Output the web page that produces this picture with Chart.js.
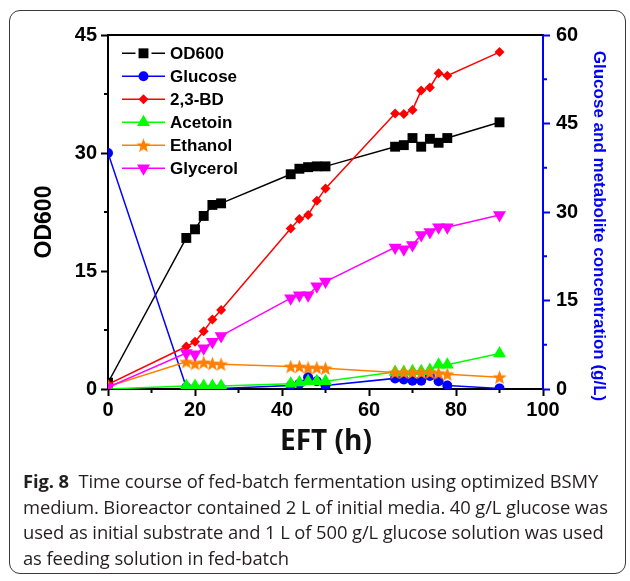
<!DOCTYPE html>
<html>
<head>
<meta charset="utf-8">
<script src="https://cdn.jsdelivr.net/npm/chart.js@4.4.1/dist/chart.umd.min.js"></script>
<style>
  html, body { margin: 0; padding: 0; background: #fff; }
  #wrap { position: relative; width: 630px; height: 581px; overflow: hidden; }
  #frame { position: absolute; left: 9px; top: 10px; width: 617px; height: 564px;
           border: 1px solid #3a3a3a; border-radius: 11px; box-sizing: border-box; }
  #c { position: absolute; left: 0; top: 0; }
  #xtitle { position: absolute; left: 0; width: 652px; top: 421px; text-align: center;
            font-family: "Open Sans", "Noto Sans", sans-serif; font-weight: 700; font-size: 28px;
            line-height: 36px; color: #111; }
  #caption { position: absolute; left: 23px; top: 468px; width: 604px;
             font-family: "Open Sans", "Noto Sans", sans-serif; font-size: 18.4px; line-height: 25.5px;
             color: #231f20; white-space: nowrap; letter-spacing: -0.1px; }
  #caption b { font-weight: 700; }
</style>
</head>
<body>
<div id="wrap">
  <div id="frame"></div>
  <canvas id="c" width="630" height="460"></canvas>
  <div id="xtitle">EFT (h)</div>
  <div id="caption"><b>Fig. 8</b>&nbsp; Time course of fed-batch fermentation using optimized BSMY<br>medium. Bioreactor contained 2 L of initial media. 40 g/L glucose was<br>used as initial substrate and 1 L of 500 g/L glucose solution was used<br>as feeding solution in fed-batch</div>
</div>
<script>
// Sampling times (h) shared by every series
const hours      = [0, 18, 20, 22, 24, 26, 42, 44, 46, 48, 50, 66, 68, 70, 72, 74, 76, 78, 90];
// Biomass (left axis)
const od600      = [0.8, 19.2, 20.3, 22.0, 23.4, 23.6, 27.3, 28.0, 28.2, 28.3, 28.3, 30.8, 31.0, 31.9, 30.8, 31.8, 31.3, 31.9, 33.9];
// Concentrations in g/L (right axis)
const glucose    = [40.0, 0.3, 0.1, 0.1, 0.1, 0.1, 0.6, 0.9, 2.0, 1.3, 0.6, 1.8, 1.6, 1.4, 1.4, 2.2, 1.3, 0.6, 0.1];
const butanediol = [0.8, 7.2, 8.0, 9.8, 11.8, 13.4, 27.2, 28.8, 29.5, 31.9, 34.0, 46.7, 46.6, 47.3, 50.6, 51.1, 53.5, 53.1, 57.1];
const acetoin    = [0.0, 0.5, 0.5, 0.5, 0.5, 0.5, 0.9, 1.1, 1.3, 1.3, 1.3, 2.9, 2.9, 3.0, 3.0, 3.2, 4.1, 4.1, 6.0];
const ethanol    = [0.4, 4.6, 4.3, 4.5, 4.3, 4.2, 3.8, 3.8, 3.6, 3.6, 3.5, 2.8, 2.8, 2.8, 2.8, 2.8, 2.7, 2.5, 2.0];
const glycerol   = [0.3, 6.1, 5.9, 6.9, 8.0, 9.0, 15.4, 15.9, 15.9, 17.4, 18.2, 24.0, 23.7, 24.4, 26.1, 26.6, 27.4, 27.4, 29.5];

// Axis ranges and tick steps
const xRange = [0, 100], xStep = 20, xMinor = 10;
const odRange = [0, 45], odStep = 15, odMinor = 7.5;
const concRange = [0, 60], concStep = 15, concMinor = 7.5;

const pts = arr => arr.map((v, i) => ({ x: hours[i], y: v }));

// Filled five-pointed star used as a point style
function starImage(color, R) {
  const r = R * 0.42, s = Math.ceil(R * 2 + 2);
  const c = document.createElement('canvas');
  c.width = s; c.height = s;
  const g = c.getContext('2d');
  g.fillStyle = color;
  g.beginPath();
  for (let i = 0; i < 10; i++) {
    const a = -Math.PI / 2 + i * Math.PI / 5;
    const rr = i % 2 ? r : R;
    g.lineTo(s / 2 + rr * Math.cos(a), s / 2 + 0.6 + rr * Math.sin(a));
  }
  g.closePath();
  g.fill();
  return c;
}
const star = starImage('#ff8000', 7.5);

const series = [
  { label: 'OD600',    data: od600,      color: '#000000', style: 'rect',     r: 7,   rot: 0,   axis: 'y'  },
  { label: 'Glucose',  data: glucose,    color: '#0000ff', style: 'circle',   r: 5,   rot: 0,   axis: 'y2' },
  { label: '2,3-BD',   data: butanediol, color: '#ff0000', style: 'rectRot',  r: 5,   rot: 0,   axis: 'y2' },
  { label: 'Acetoin',  data: acetoin,    color: '#00ff00', style: 'triangle', r: 7.5, rot: 0,   axis: 'y2' },
  { label: 'Ethanol',  data: ethanol,    color: '#ff8000', style: star,       r: 7.5, rot: 0,   axis: 'y2' },
  { label: 'Glycerol', data: glycerol,   color: '#ff00ff', style: 'triangle', r: 7.5, rot: 180, axis: 'y2' }
];

const datasets = series.map((s, i) => ({
  label: s.label,
  data: pts(s.data),
  yAxisID: s.axis,
  borderColor: s.color,
  backgroundColor: s.color,
  borderWidth: 1.5,
  pointStyle: s.style,
  pointRadius: s.r,
  pointHoverRadius: s.r,
  pointRotation: s.rot,
  pointBorderWidth: 0,
  pointBackgroundColor: s.color,
  tension: 0,
  order: series.length - i
}));

const tickFont = { family: '"Liberation Sans", Arial, sans-serif', weight: 'bold', size: 20 };

// Extra decorations: top frame line, minor ticks, axis titles, in-plot legend
const decor = {
  id: 'decor',
  afterDraw(chart) {
    const { ctx, chartArea: a, scales } = chart;
    ctx.save();
    // top border of the plot box
    ctx.strokeStyle = '#000';
    ctx.lineWidth = 2;
    ctx.beginPath();
    ctx.moveTo(a.left - 1, a.top);
    ctx.lineTo(a.right, a.top);
    ctx.stroke();

    // minor ticks
    const minorLen = 4;
    ctx.lineWidth = 2;
    ctx.strokeStyle = '#000';
    for (let v = xRange[0] + xMinor; v < xRange[1]; v += xStep) {
      const px = scales.x.getPixelForValue(v);
      ctx.beginPath(); ctx.moveTo(px, a.bottom); ctx.lineTo(px, a.bottom + minorLen); ctx.stroke();
    }
    for (let v = odRange[0] + odMinor; v < odRange[1]; v += odStep) {
      const py = scales.y.getPixelForValue(v);
      ctx.beginPath(); ctx.moveTo(a.left, py); ctx.lineTo(a.left - minorLen, py); ctx.stroke();
    }
    ctx.strokeStyle = '#0000ff';
    for (let v = concRange[0] + concMinor; v < concRange[1]; v += concStep) {
      const py = scales.y2.getPixelForValue(v);
      ctx.beginPath(); ctx.moveTo(a.right, py); ctx.lineTo(a.right + minorLen, py); ctx.stroke();
    }

    // axis titles
    ctx.textAlign = 'center';
    ctx.textBaseline = 'middle';
    ctx.fillStyle = '#000';
    ctx.font = 'bold 23px "Liberation Sans", Arial, sans-serif';
    ctx.save();
    ctx.translate(45, 222);
    ctx.rotate(-Math.PI / 2);
    ctx.fillText('OD600', 0, 0);
    ctx.restore();

    ctx.fillStyle = '#0000ff';
    ctx.font = 'bold 17px "Liberation Sans", Arial, sans-serif';
    ctx.save();
    ctx.translate(599, 226);
    ctx.rotate(Math.PI / 2);
    ctx.fillText('Glucose and metabolite concentration (g/L)', 0, 0);
    ctx.restore();

    // legend
    const lx0 = 122, lx1 = 165, mx = 143.5, tx = 170, y0 = 53.3, dy = 23;
    ctx.font = 'bold 17px "Liberation Sans", Arial, sans-serif';
    ctx.textAlign = 'left';
    series.forEach((s, i) => {
      const y = y0 + i * dy;
      ctx.strokeStyle = s.color;
      ctx.fillStyle = s.color;
      ctx.lineWidth = 1.5;
      ctx.beginPath();
      if (i === 0) {
        ctx.moveTo(lx0, y); ctx.lineTo(mx - 8, y);
        ctx.moveTo(mx + 8, y); ctx.lineTo(lx1, y);
      } else {
        ctx.moveTo(lx0, y); ctx.lineTo(lx1, y);
      }
      ctx.stroke();
      Chart.helpers.drawPoint(ctx, { pointStyle: s.style, radius: s.r, rotation: s.rot, borderWidth: 0 }, mx, y);
      ctx.fillStyle = '#000';
      ctx.fillText(s.label, tx, y + 1);
    });
    ctx.restore();
  }
};

new Chart(document.getElementById('c'), {
  type: 'line',
  data: { datasets },
  options: {
    responsive: false,
    animation: false,
    events: [],
    layout: { autoPadding: false, padding: { top: 35, left: 0, right: 0, bottom: 0 } },
    plugins: { legend: { display: false }, tooltip: { enabled: false } },
    scales: {
      x: {
        type: 'linear', position: 'bottom', min: xRange[0], max: xRange[1],
        afterFit: s => { s.height = 460 - 389; },
        ticks: { stepSize: xStep, color: '#000', font: tickFont, padding: 2, maxRotation: 0 },
        grid: { drawOnChartArea: false, drawTicks: true, tickLength: 7, tickWidth: 2, tickColor: '#000' },
        border: { display: true, color: '#000', width: 2 }
      },
      y: {
        type: 'linear', position: 'left', min: odRange[0], max: odRange[1],
        afterFit: s => { s.width = 108; },
        ticks: { stepSize: odStep, color: '#000', font: tickFont, padding: 4 },
        grid: { drawOnChartArea: false, drawTicks: true, tickLength: 7, tickWidth: 2, tickColor: '#000' },
        border: { display: true, color: '#000', width: 2 }
      },
      y2: {
        type: 'linear', position: 'right', min: concRange[0], max: concRange[1],
        afterFit: s => { s.width = 630 - 543; },
        ticks: { stepSize: concStep, color: '#000', font: tickFont, padding: 6 },
        grid: { drawOnChartArea: false, drawTicks: true, tickLength: 7, tickWidth: 2, tickColor: '#0000ff' },
        border: { display: true, color: '#0000ff', width: 2 }
      }
    }
  },
  plugins: [decor]
});
</script>
</body>
</html>
